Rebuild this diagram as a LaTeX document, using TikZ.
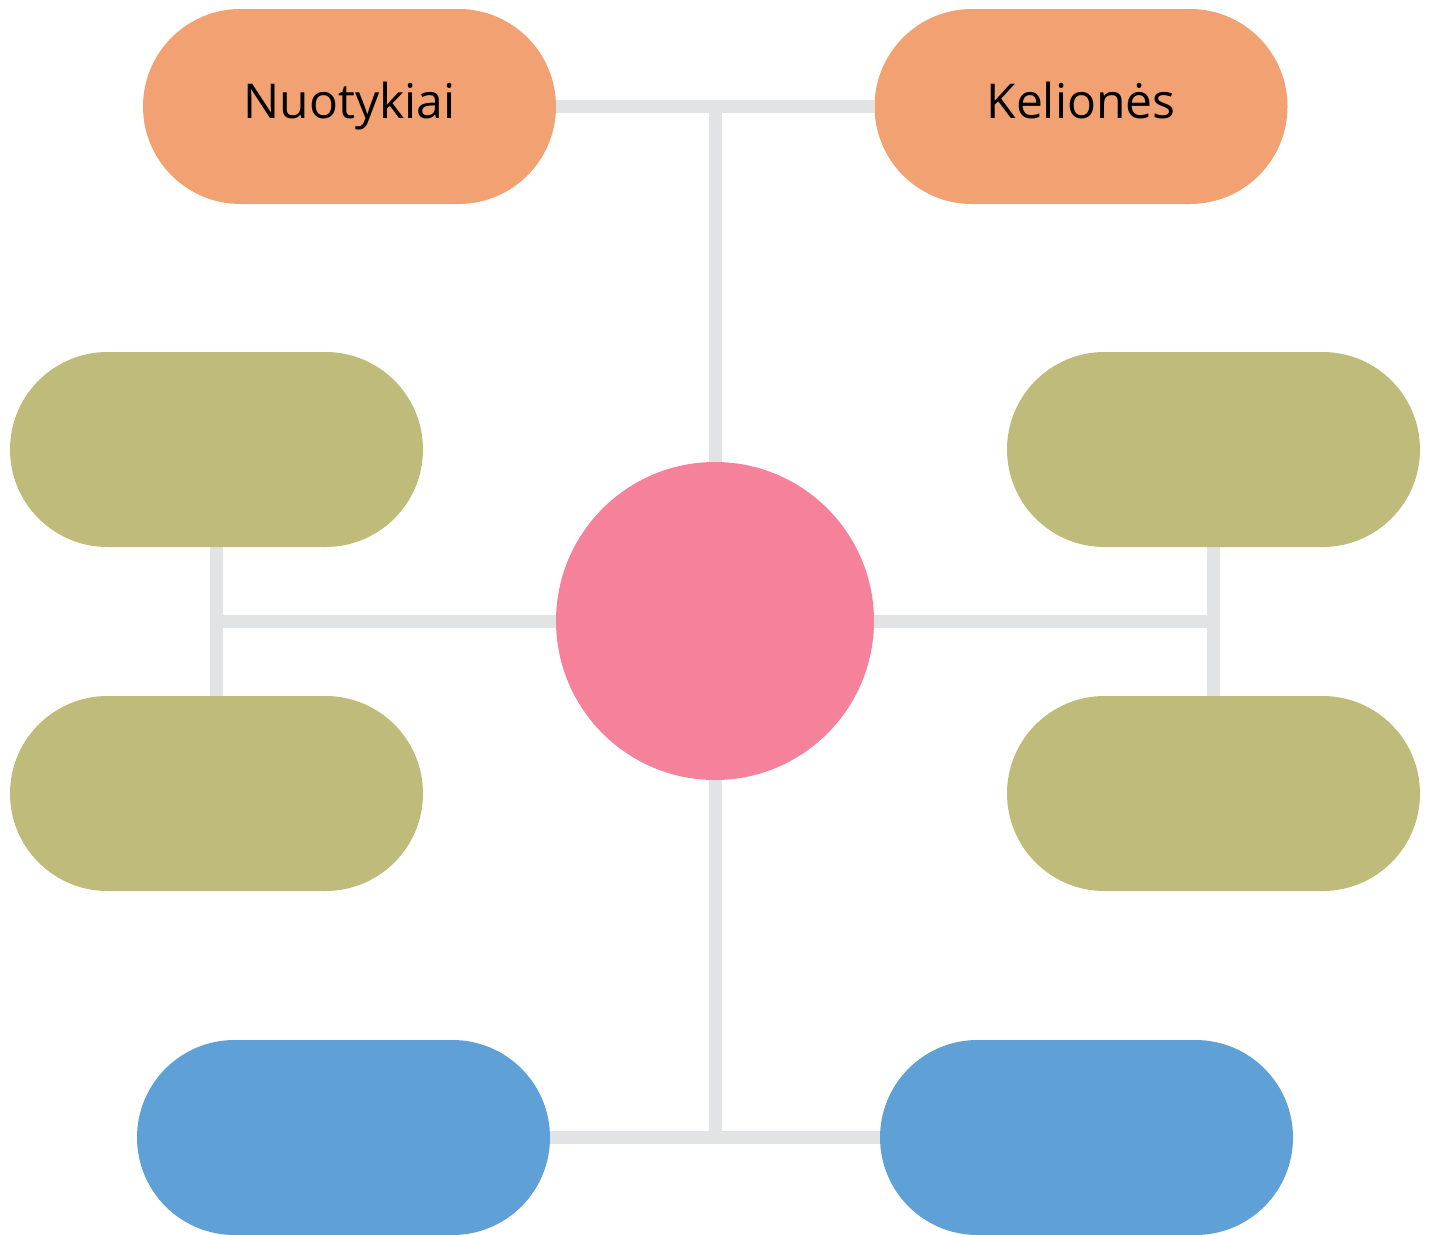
\documentclass[tikz,border=0pt]{standalone}
\usepackage{fontspec}
\setmainfont{Open Sans}
\usetikzlibrary{backgrounds}
\definecolor{orangeC}{HTML}{F2A272}
\definecolor{greenC}{HTML}{BFBC7B}
\definecolor{pinkC}{HTML}{F5829A}
\definecolor{blueC}{HTML}{5FA0D7}
\definecolor{lineC}{HTML}{E2E3E5}
\tikzset{
  pill/.style={rectangle, rounded corners=97.5pt, minimum width=413pt, minimum height=195pt, inner sep=0pt, draw=none,
    font=\fontsize{48}{56}\selectfont, text height=35pt, text depth=12pt},
  hub/.style={circle, minimum size=318pt, inner sep=0pt, fill=pinkC, draw=none},
  conn/.style={draw=lineC, line width=13pt}
}
\begin{document}
\begin{tikzpicture}[x=1pt,y=-1pt]
\useasboundingbox (0,0) rectangle (1429,1234);
\node[pill, fill=orangeC] (o1) at (349.5,106.5) {Nuotykiai};
\node[pill, fill=orangeC] (o2) at (1081,106.5) {Kelionės};
\node[pill, fill=greenC] (g1) at (216.5,449.5) {};
\node[pill, fill=greenC] (g2) at (216.5,793.5) {};
\node[pill, fill=greenC] (g3) at (1213.5,449.5) {};
\node[pill, fill=greenC] (g4) at (1213.5,793.5) {};
\node[pill, fill=blueC] (b1) at (343.5,1137.5) {};
\node[pill, fill=blueC] (b2) at (1086.5,1137.5) {};
\node[hub] (c) at (715,621) {};
\begin{pgfonlayer}{background}
\draw[conn] (o1.east) -- (o2.west);
\draw[conn] (c.north) -- (c.north |- o1.east);
\draw[conn] (g1.south) -- (g2.north);
\draw[conn] (c.west) -- (c.west -| g1.south);
\draw[conn] (g3.south) -- (g4.north);
\draw[conn] (c.east) -- (c.east -| g3.south);
\draw[conn] (b1.east) -- (b2.west);
\draw[conn] (c.south) -- (c.south |- b1.east);
\end{pgfonlayer}
\end{tikzpicture}
\end{document}
